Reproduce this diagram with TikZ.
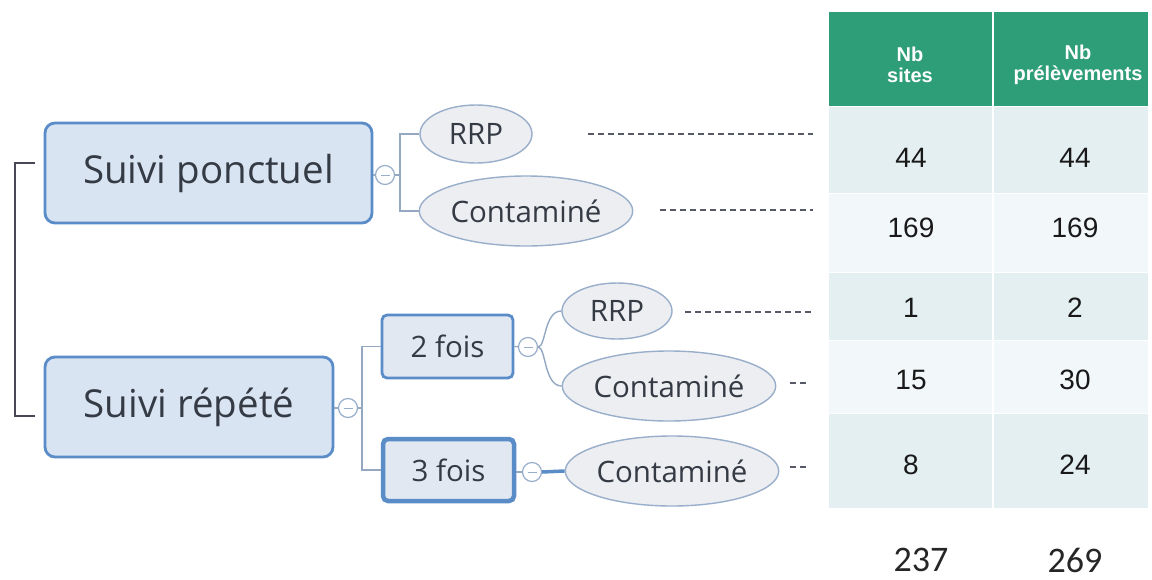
\documentclass[tikz,border=0pt]{standalone}
\usepackage{fontspec}
\setmainfont{Liberation Sans}
\newfontfamily\mmfont{Open Sans}
\newfontfamily\totfont{Carlito}
\usetikzlibrary{shapes.geometric}
\definecolor{boxfill}{HTML}{D9E4F2}
\definecolor{boxline}{HTML}{5A8CC8}
\definecolor{ellfill}{HTML}{EDEEF1}
\definecolor{ellline}{HTML}{98AECB}
\definecolor{conn}{HTML}{94A8C2}
\definecolor{mmtext}{HTML}{353B45}
\definecolor{hdr}{HTML}{2E9E78}
\definecolor{rowdark}{HTML}{E4EFF2}
\definecolor{rowlight}{HTML}{F2F7F9}
\definecolor{brk}{HTML}{4A4658}
\definecolor{dashc}{HTML}{555A66}
\tikzset{
  topbox/.style={draw=boxline, line width=2.8pt, fill=boxfill, rounded corners=10pt,
    text=mmtext, font=\mmfont\fontsize{38.5}{44}\selectfont, inner sep=0pt},
  subbox/.style={draw=boxline, line width=2.8pt, fill=boxfill!60!ellfill, rounded corners=5pt,
    text=mmtext, font=\mmfont\fontsize{29.5}{34}\selectfont, inner sep=0pt},
  leaf/.style={ellipse, draw=ellline, line width=1.4pt, fill=ellfill, text=mmtext,
    font=\mmfont\fontsize{29.5}{34}\selectfont, inner sep=0pt},
  toggle/.style={circle, draw=ellline, line width=1.2pt, fill=white, minimum size=19pt,
    inner sep=0pt, path picture={\draw[ellline, line width=1pt]
      ([xshift=-4.5pt]path picture bounding box.center) -- ([xshift=4.5pt]path picture bounding box.center);}},
  link/.style={draw=conn, line width=1.4pt},
  dashlink/.style={draw=dashc, line width=1.3pt, dash pattern=on 6pt off 4pt},
  cellnum/.style={font=\fontsize{28}{32}\selectfont, text=black!90},
  hdrtext/.style={font=\bfseries\fontsize{20}{21.5}\selectfont, text=white, align=center},
  tot/.style={font=\totfont\fontsize{36}{40}\selectfont, text=black!85}
}
\begin{document}
\begin{tikzpicture}[x=1pt,y=-1pt]
\useasboundingbox (0,0) rectangle (1152,579);
\fill[white] (0,0) rectangle (1152,579);

% ---------- table ----------
\fill[hdr] (829,12) rectangle (1148,106);
\fill[rowdark]  (829,106) rectangle (1148,193);
\fill[rowlight] (829,193) rectangle (1148,272);
\fill[rowdark]  (829,272) rectangle (1148,340);
\fill[rowlight] (829,340) rectangle (1148,413);
\fill[rowdark]  (829,413) rectangle (1148,508);
\draw[white, line width=1.5pt] (993,12) -- (993,508);
\foreach \yy in {106,193,272,340,413} \draw[white, line width=1pt] (829,\yy) -- (1148,\yy);

\node[hdrtext] (h1) at (910,65) {Nb\\sites};
\node[hdrtext] (h2) at (1078,65) {Nb\\prélèvements};
\node[cellnum] (a1) at (911,158) {44};
\node[cellnum] (b1) at (1075,158) {44};
\node[cellnum] (a2) at (911,228) {169};
\node[cellnum] (b2) at (1075,228) {169};
\node[cellnum] (a3) at (911,308) {1};
\node[cellnum] (b3) at (1075,308) {2};
\node[cellnum] (a4) at (911,380) {15};
\node[cellnum] (b4) at (1075,380) {30};
\node[cellnum] (a5) at (911,465) {8};
\node[cellnum] (b5) at (1075,465) {24};
\node[tot] (t1) at (921,560) {237};
\node[tot] (t2) at (1075,560) {269};

% ---------- mind map ----------
\node[topbox, minimum width=327pt, minimum height=100pt] (sp) at (208.5,173) {Suivi ponctuel};
\node[topbox, minimum width=288pt, minimum height=100pt] (sr) at (189,407) {Suivi répété};

\coordinate (bt) at (35,163);
\coordinate (bb) at (35,416);
\draw[brk, line width=1.4pt] (bt) -- ++(-20,0) |- (bb);

\node[toggle] (c1) at (385,175) {};
\node[leaf, minimum width=112pt, minimum height=58pt] (r1) at (476,134) {RRP};
\node[leaf, minimum width=212pt, minimum height=70pt] (k1) at (526,211) {Contaminé};
\coordinate (j1) at (400,175);
\draw[link] (sp.east |- c1) -- (c1);
\draw[link] (c1) -- (j1);
\draw[link] (r1.west) -| (j1) |- (k1.west);

\node[toggle] (c2) at (348,408) {};
\node[subbox, minimum width=131pt, minimum height=63pt] (f2) at (447.5,346.5) {2 fois};
\node[subbox, line width=4.5pt, minimum width=131pt, minimum height=62pt] (f3) at (448.5,470) {3 fois};
\coordinate (j2) at (362,408);
\draw[link] (sr.east |- c2) -- (c2);
\draw[link] (c2) -- (j2);
\draw[link] (f2.west) -| (j2) |- (f3.west);

\node[toggle] (c3) at (528,347) {};
\node[leaf, minimum width=110pt, minimum height=56pt] (r2) at (617,311) {RRP};
\node[leaf, minimum width=212pt, minimum height=70pt] (k2) at (669,386) {Contaminé};
\draw[link] (f2.east) -- (c3);
\draw[link] (c3.east) .. controls (546,347) and (544,311) .. (r2.west);
\draw[link] (c3.east) .. controls (546,347) and (544,386) .. (k2.west);

\node[toggle] (c4) at (532,472) {};
\node[leaf, minimum width=210pt, minimum height=70pt] (k3) at (672,471) {Contaminé};
\draw[link] (f3.east |- c4) -- (c4);
\draw[draw=boxline, line width=3.5pt] (c4.east) -- (k3.west);

% ---------- dashed leaders ----------
\coordinate (e1) at (813,134);
\coordinate (e2) at (813,210);
\coordinate (e3) at (813,312);
\coordinate (e4) at (806,383);
\coordinate (e5) at (806,467);
\draw[dashlink] (588,134) -- (e1);
\draw[dashlink] (660,210) -- (e2);
\draw[dashlink] (685,312) -- (e3);
\draw[dashlink] (790,383) -- (e4);
\draw[dashlink] (790,467) -- (e5);
\end{tikzpicture}
\end{document}
